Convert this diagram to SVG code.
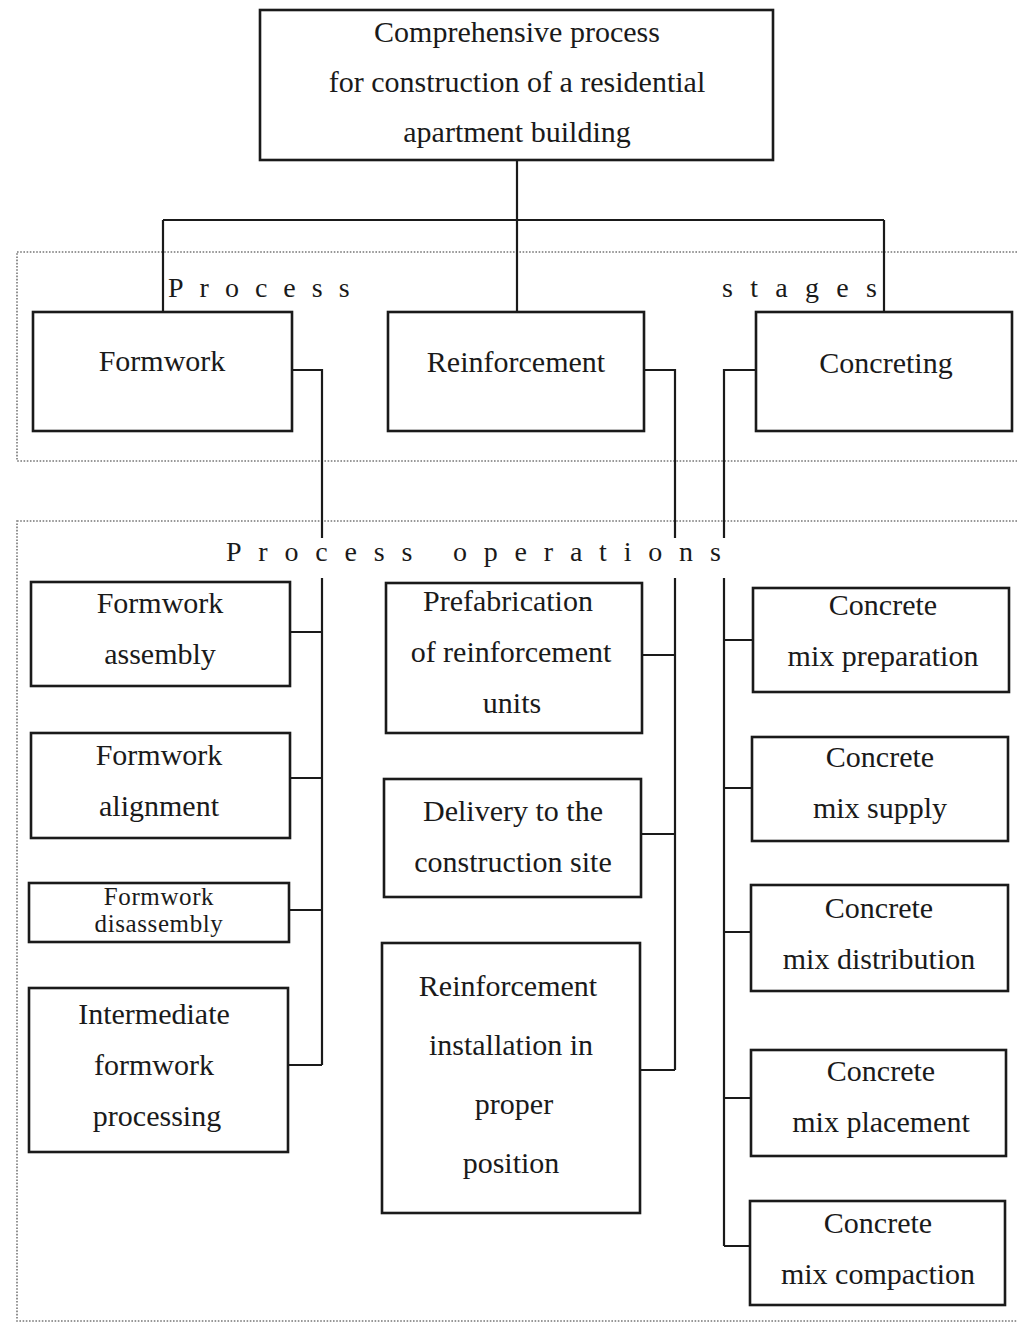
<svg xmlns="http://www.w3.org/2000/svg" width="1017" height="1325" viewBox="0 0 1017 1325">
<style>
.box{fill:#fff;stroke:#1a1a1a;stroke-width:2.6}
.t{font-family:"Liberation Serif","Times New Roman",serif;font-size:30px;fill:#1a1a1a;text-anchor:middle}
.ts{font-family:"Liberation Serif","Times New Roman",serif;font-size:25px;fill:#1a1a1a;text-anchor:middle;letter-spacing:0.6px}
.lab{font-family:"Liberation Serif","Times New Roman",serif;font-size:28px;fill:#1a1a1a}
.c{fill:none;stroke:#1a1a1a;stroke-width:2.2}
.zone{fill:none;stroke:#777;stroke-width:1.6;stroke-dasharray:1.6 1.6}
</style>
<rect width="1017" height="1325" fill="#fff"/>
<g id="zones">
<rect class="zone" x="17" y="252" width="1010" height="209"/>
<rect class="zone" x="17" y="521" width="1010" height="800"/>
<text class="lab" x="168" y="297" letter-spacing="16">Process</text>
<text class="lab" x="722" y="297" letter-spacing="17.3">stages</text>
<text class="lab" x="226" y="561" letter-spacing="16.8">Process operations</text>
</g>
<g id="connectors">
<path class="c" d="M517 160V220M163 220H884M163 220V312M517 220V312M884 220V312"/>
<path class="c" d="M292 370H322V538M322 578V1065M290 632H322M290 778H322M289 910H322M288 1065H322"/>
<path class="c" d="M644 370H675V538M675 578V1070M642 655H675M641 834H675M640 1070H675"/>
<path class="c" d="M756 370H724V538M724 578V1246M753 640H724M752 788H724M751 932H724M751 1098H724M750 1246H724"/>
</g>
<g id="root"><rect class="box" x="260" y="10" width="513" height="150"/>
<text class="t" x="517" y="42">Comprehensive process</text>
<text class="t" x="517" y="92">for construction of a residential</text>
<text class="t" x="517" y="142">apartment building</text></g>
<g id="formwork"><rect class="box" x="33" y="312" width="259" height="119"/><text class="t" x="162" y="371">Formwork</text></g>
<g id="reinforcement"><rect class="box" x="388" y="312" width="256" height="119"/><text class="t" x="516" y="372">Reinforcement</text></g>
<g id="concreting"><rect class="box" x="756" y="312" width="256" height="119"/><text class="t" x="886" y="373">Concreting</text></g>
<g id="fw-assembly"><rect class="box" x="31" y="582" width="259" height="104"/><text class="t" x="160" y="613">Formwork</text><text class="t" x="160" y="664">assembly</text></g>
<g id="fw-alignment"><rect class="box" x="31" y="733" width="259" height="105"/><text class="t" x="159" y="765">Formwork</text><text class="t" x="159" y="816">alignment</text></g>
<g id="fw-disassembly"><rect class="box" x="29" y="883" width="260" height="59"/><text class="ts" x="159" y="905">Formwork</text><text class="ts" x="159" y="932">disassembly</text></g>
<g id="fw-intermediate"><rect class="box" x="29" y="988" width="259" height="164"/><text class="t" x="154" y="1024">Intermediate</text><text class="t" x="154" y="1075">formwork</text><text class="t" x="157" y="1126">processing</text></g>
<g id="rf-prefab"><rect class="box" x="386" y="583" width="256" height="150"/><text class="t" x="508" y="611">Prefabrication</text><text class="t" x="511" y="662">of reinforcement</text><text class="t" x="512" y="713">units</text></g>
<g id="rf-delivery"><rect class="box" x="384" y="779" width="257" height="118"/><text class="t" x="513" y="821">Delivery to the</text><text class="t" x="513" y="872">construction site</text></g>
<g id="rf-install"><rect class="box" x="382" y="943" width="258" height="270"/><text class="t" x="508" y="996">Reinforcement</text><text class="t" x="511" y="1055">installation in</text><text class="t" x="514" y="1114">proper</text><text class="t" x="511" y="1173">position</text></g>
<g id="cc-prep"><rect class="box" x="753" y="588" width="256" height="104"/><text class="t" x="883" y="615">Concrete</text><text class="t" x="883" y="666">mix preparation</text></g>
<g id="cc-supply"><rect class="box" x="752" y="737" width="256" height="104"/><text class="t" x="880" y="767">Concrete</text><text class="t" x="880" y="818">mix supply</text></g>
<g id="cc-distribution"><rect class="box" x="751" y="885" width="257" height="106"/><text class="t" x="879" y="918">Concrete</text><text class="t" x="879" y="969">mix distribution</text></g>
<g id="cc-placement"><rect class="box" x="751" y="1050" width="255" height="106"/><text class="t" x="881" y="1081">Concrete</text><text class="t" x="881" y="1132">mix placement</text></g>
<g id="cc-compaction"><rect class="box" x="750" y="1201" width="255" height="104"/><text class="t" x="878" y="1233">Concrete</text><text class="t" x="878" y="1284">mix compaction</text></g>
</svg>
